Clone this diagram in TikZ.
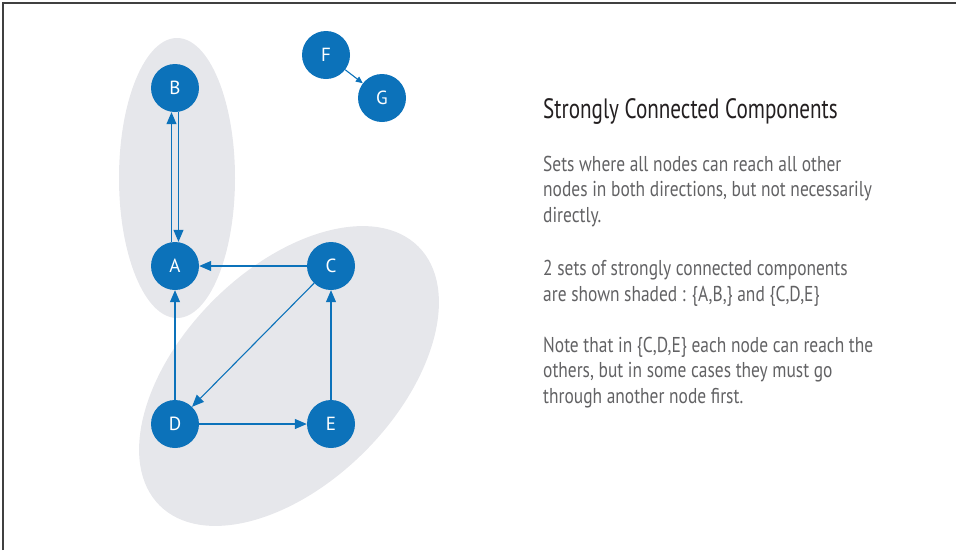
\documentclass[tikz,border=0pt]{standalone}
\usepackage{fontspec}
\setmainfont{PT Sans}
\newfontfamily\narrowfont{PT Sans}[FakeStretch=0.81]
\newfontfamily\titlefont{PT Sans}[FakeStretch=0.755]
\usetikzlibrary{arrows.meta,positioning}
\definecolor{sccBlue}{RGB}{12,114,186}
\definecolor{sccShade}{RGB}{230,231,235}
\definecolor{sccText}{RGB}{98,98,100}
\definecolor{sccTitle}{RGB}{35,31,32}

\begin{document}
\begin{tikzpicture}[x=1pt,y=1pt,
vertex/.style={circle,fill=sccBlue,text=white,minimum size=48pt,inner sep=0pt,font=\fontsize{19}{19}\selectfont},
blob/.style={fill=sccShade},
arr/.style={-{Triangle[length=12pt,width=10pt]},draw=sccBlue,line width=1.1pt},
tiny/.style={-{Triangle[length=7pt,width=6pt]},draw=sccBlue,line width=1.1pt},
para/.style={anchor=base west,align=left,inner sep=0pt,text=sccText,font=\narrowfont\fontsize{21.5}{25.5}\selectfont}
]
\useasboundingbox (0,0) rectangle (956,-550);
\draw[line width=1.5pt,black!75] (3,-550) -- (3,-3) -- (956,-3);
% shaded components
\fill[blob] (177,-178) ellipse [x radius=58, y radius=140];
\fill[blob,rotate around={45:(289,-376)}] (289,-376) ellipse [x radius=183, y radius=107];
% graph
\node[vertex] (B) at (175,-88) {B};
\node[vertex] (A) at (175,-266) {A};
\node[vertex] (C) at (331,-266) {C};
\node[vertex] (D) at (175,-424) {D};
\node[vertex] (E) at (331,-424) {E};
\node[vertex] (F) at (326,-55) {F};
\node[vertex] (G) at (382,-98) {G};
\draw[arr] ([xshift=-3.5pt]A.north) -- ([xshift=-3.5pt]B.south);
\draw[arr] ([xshift=3.5pt]B.south) -- ([xshift=3.5pt]A.north);
\foreach \x/\y in {C/A,C/D,D/A,D/E,E/C}
\draw[arr] (\x) -- (\y);
\draw[tiny] (F) -- (G);
% explanation (base = last line)
\node[anchor=base west,inner sep=0pt,text=sccTitle,font=\titlefont\fontsize{28}{28}\selectfont] (title) at (543,-118) {Strongly Connected Components};
\node[para] (p1) at (543,-222) {Sets where all nodes can reach all other\\nodes in both directions, but not necessarily\\directly.};
\node[para] (p2) at (543,-301) {2 sets of strongly connected components\\are shown shaded : \{A,B,\} and \{C,D,E\}};
\node[para] (p3) at (543,-403) {Note that in \{C,D,E\} each node can reach the\\others, but in some cases they must go\\through another node first.};
\end{tikzpicture}
\end{document}
